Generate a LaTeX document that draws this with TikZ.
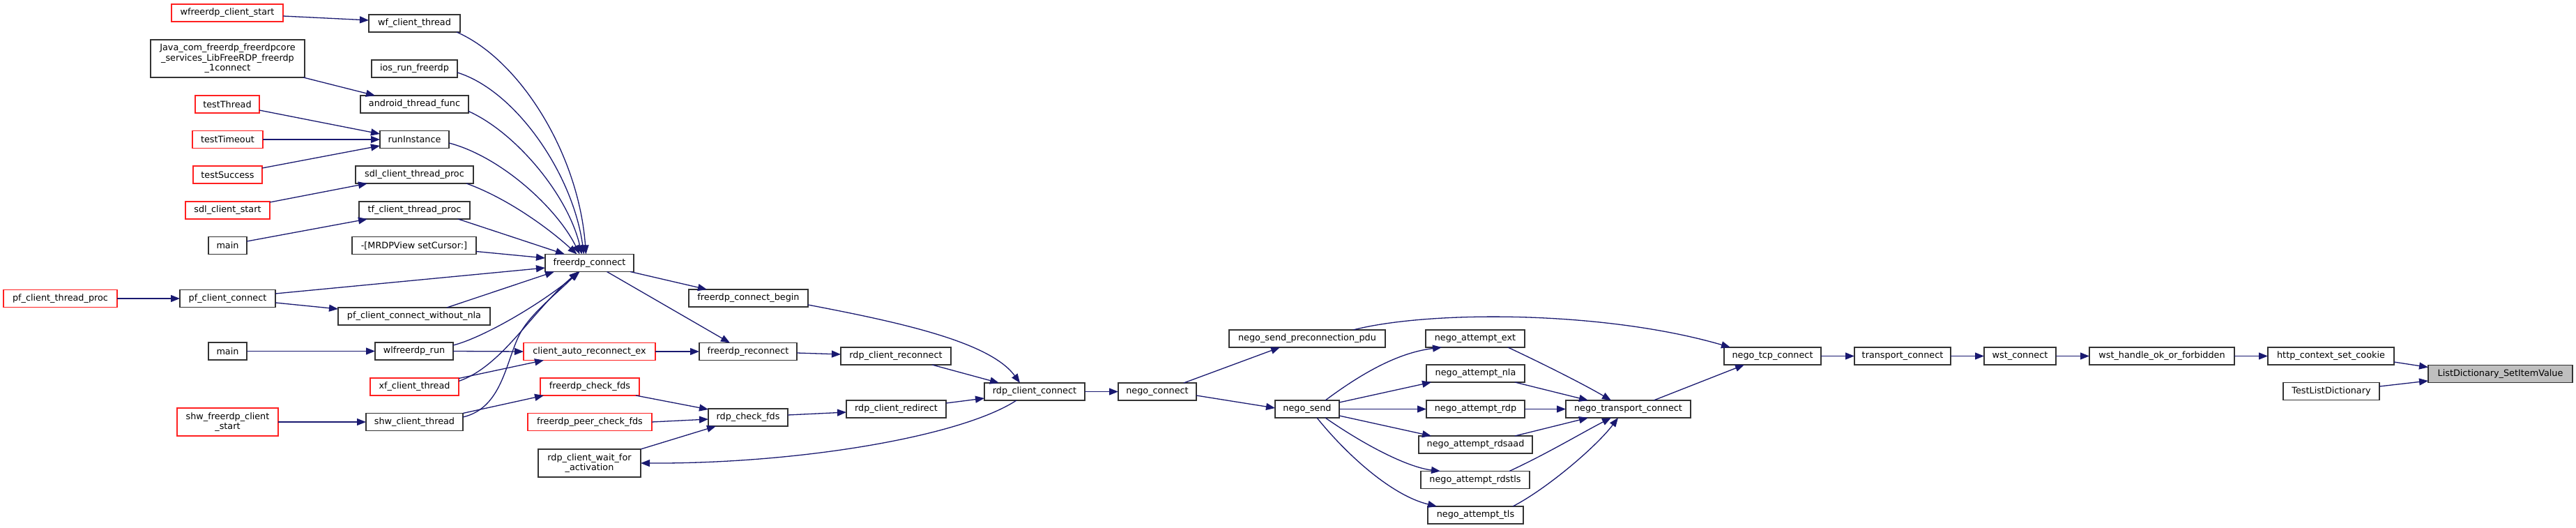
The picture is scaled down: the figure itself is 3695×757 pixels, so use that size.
\documentclass[tikz,border=0pt]{standalone}
\usepackage{fontspec}
\setmainfont{DejaVu Sans}
\usetikzlibrary{arrows.meta,calc}
\definecolor{navy}{HTML}{191970}
\definecolor{redb}{HTML}{FF2020}
\definecolor{rootfill}{HTML}{BFBFBF}
\definecolor{bord}{HTML}{333333}
\begin{document}
\begin{tikzpicture}[x=1pt,y=-1pt,
  box/.style={draw=bord, line width=1.4pt, fill=white, inner sep=0pt, outer sep=0pt,
    minimum height=25pt, align=center, font=\fontsize{12.8}{14.5}\selectfont},
  rbox/.style={box, draw=redb},
  e/.style={draw=navy, line width=1.3pt, -{Triangle[length=13pt,width=10pt]}}]
\useasboundingbox[fill=white] (0,0) rectangle (3695,757);
% column 1
\node[rbox, minimum width=163pt] (pctp) at (86.5,428) {pf\_client\_thread\_proc};
% column 2
\node[rbox, minimum width=160pt] (wcs) at (326,18.5) {wfreerdp\_client\_start};
\node[box, minimum width=221pt, minimum height=54pt] (java) at (326.5,84) {Java\_com\_freerdp\_freerdpcore\\\_services\_LibFreeRDP\_freerdp\\\_1connect};
\node[rbox, minimum width=92pt] (tth) at (326,149.5) {testThread};
\node[rbox, minimum width=101pt] (tto) at (326.5,200) {testTimeout};
\node[rbox, minimum width=99pt] (tsu) at (326.5,250.5) {testSuccess};
\node[rbox, minimum width=121pt] (scs) at (326.5,301.5) {sdl\_client\_start};
\node[box, minimum width=55pt] (m1) at (326.5,352) {main};
\node[box, minimum width=137pt] (pfc) at (326.5,428) {pf\_client\_connect};
\node[box, minimum width=55pt] (m2) at (326.5,503.5) {main};
\node[rbox, minimum width=145pt, minimum height=40pt] (sfcs) at (326.5,605) {shw\_freerdp\_client\\\_start};
% column 3
\node[box, minimum width=131pt] (wfct) at (594.5,33.5) {wf\_client\_thread};
\node[box, minimum width=123pt] (ios) at (594.5,98.5) {ios\_run\_freerdp};
\node[box, minimum width=155pt] (atf) at (594.5,149.5) {android\_thread\_func};
\node[box, minimum width=99pt] (ri) at (594.5,200) {runInstance};
\node[box, minimum width=169pt] (sctp) at (594.5,250.5) {sdl\_client\_thread\_proc};
\node[box, minimum width=159pt] (tctp) at (594.5,301.5) {tf\_client\_thread\_proc};
\node[box, minimum width=178pt] (mrdp) at (594,352) {-[MRDPView setCursor:]};
\node[box, minimum width=218pt] (pfcwn) at (594,453.5) {pf\_client\_connect\_without\_nla};
\node[box, minimum width=112pt] (wlr) at (594,503.5) {wlfreerdp\_run};
\node[rbox, minimum width=127pt] (xct) at (594.5,554.5) {xf\_client\_thread};
\node[box, minimum width=139pt] (shw) at (594.5,605) {shw\_client\_thread};
% column 4
\node[box, minimum width=127pt] (fc) at (845.5,377) {freerdp\_connect};
\node[rbox, minimum width=189pt] (car) at (845.5,504) {client\_auto\_reconnect\_ex};
\node[rbox, minimum width=142pt] (fcf) at (846,554.5) {freerdp\_check\_fds};
\node[rbox, minimum width=178pt] (fpcf) at (846,605) {freerdp\_peer\_check\_fds};
\node[box, minimum width=147pt, minimum height=40pt] (rcwa) at (845.5,664) {rdp\_client\_wait\_for\\\_activation};
% column 5
\node[box, minimum width=171pt] (fcb) at (1073.5,427.5) {freerdp\_connect\_begin};
\node[box, minimum width=140pt] (fr) at (1073,504) {freerdp\_reconnect};
\node[box, minimum width=114pt] (rcf) at (1073,598.5) {rdp\_check\_fds};
% column 6
\node[box, minimum width=158pt] (rcr) at (1285,510.5) {rdp\_client\_reconnect};
\node[box, minimum width=143pt] (rcrd) at (1285.5,586.5) {rdp\_client\_redirect};
% column 7+
\node[box, minimum width=144pt] (rcc) at (1484,561.5) {rdp\_client\_connect};
\node[box, minimum width=112pt] (nc) at (1660,561.5) {nego\_connect};
\node[box, minimum width=224pt] (nspp) at (1875,485.5) {nego\_send\_preconnection\_pdu};
\node[box, minimum width=92pt] (ns) at (1875,586.5) {nego\_send};
\node[box, minimum width=142pt] (nae) at (2116,485.5) {nego\_attempt\_ext};
\node[box, minimum width=141pt] (nan) at (2116.5,535.5) {nego\_attempt\_nla};
\node[box, minimum width=141pt] (nar) at (2116.5,586.5) {nego\_attempt\_rdp};
\node[box, minimum width=163pt] (nards) at (2116.5,637.5) {nego\_attempt\_rdsaad};
\node[box, minimum width=156pt] (nrt) at (2116,688) {nego\_attempt\_rdstls};
\node[box, minimum width=137pt] (ntls) at (2116.5,738.5) {nego\_attempt\_tls};
\node[box, minimum width=179pt] (ntc) at (2335.5,586.5) {nego\_transport\_connect};
\node[box, minimum width=139pt] (ntcp) at (2542.5,510.5) {nego\_tcp\_connect};
\node[box, minimum width=138pt] (tc) at (2729,510.5) {transport\_connect};
\node[box, minimum width=103pt] (wc) at (2897.5,510.5) {wst\_connect};
\node[box, minimum width=208pt] (wh) at (3101,510.5) {wst\_handle\_ok\_or\_forbidden};
\node[box, minimum width=181pt] (hcsc) at (3343.5,510.5) {http\_context\_set\_cookie};
\node[box, minimum width=138pt] (tld) at (3344,561) {TestListDictionary};
\node[box, fill=rootfill, minimum width=207pt] (ld) at (3586.5,536) {ListDictionary\_SetItemValue};
% edges, left part
\draw[e] ($(wcs.east)+(0,4.5)$) -- ($(wfct.west)+(0,-4.5)$);
\draw[e] ($(java.south east)+(-2,0)$) -- ($(atf.north west)+(21,0)$);
\draw[e] ($(tth.east)+(0,8.5)$) -- ($(ri.west)+(0,-8)$);
\draw[e] (tto.east) -- (ri.west);
\draw[e] ($(tsu.east)+(0,-9.5)$) -- ($(ri.west)+(0,9)$);
\draw[e] ($(scs.north east)+(0,1)$) -- ($(sctp.south west)+(17,0)$);
\draw[e] ($(m1.east)+(0,-6)$) -- ($(tctp.south west)+(12,0)$);
\draw[e] (pctp.east) -- (pfc.west);
\draw[e] ($(pfc.east)+(0,6)$) -- ($(pfcwn.west)+(0,-10.5)$);
\draw[e] (m2.east) -- (wlr.west);
\draw[e] (sfcs.east) -- (shw.west);
% into freerdp_connect
\draw[e] ($(wfct.south east)+(-5,0)$) .. controls (745,85) and (830,220) .. ($(fc.north)+(-5,0)$);
\draw[e] ($(ios.east)+(0,5.5)$) .. controls (740,130) and (822,250) .. ($(fc.north)+(-8,0)$);
\draw[e] ($(atf.east)+(0,10)$) .. controls (740,190) and (815,280) .. ($(fc.north)+(-11,0)$);
\draw[e] ($(ri.east)+(0,5)$) .. controls (720,225) and (800,300) .. ($(fc.north)+(-14,0)$);
\draw[e] ($(sctp.south east)+(-10,0)$) .. controls (730,285) and (790,330) .. ($(fc.north)+(-18,0)$);
\draw[e] ($(tctp.south east)+(-17,0)$) -- ($(fc.north west)+(28,0)$);
\draw[e] ($(mrdp.south east)+(0,-4)$) -- ($(fc.west)+(0,-7)$);
\draw[e] ($(pfc.east)+(0,-7)$) -- ($(fc.west)+(0,7)$);
\draw[e] ($(pfcwn.north)+(47,0)$) -- ($(fc.south west)+(13,0)$);
\draw[e] ($(wlr.east)+(0,-8.5)$) .. controls (690,485) and (770,440) .. ($(fc.south)+(-14,0)$);
\draw[e] ($(xct.east)+(0,-8)$) .. controls (720,525) and (760,450) .. ($(fc.south)+(-16,0)$);
\draw[e] ($(shw.east)+(0,-7)$) .. controls (720,585) and (725,520) .. (745,480) .. controls (760,450) and (800,420) .. ($(fc.south)+(-16,0)$);
\draw[e] (wlr.east) -- (car.west);
\draw[e] ($(xct.east)+(0,-12)$) -- ($(car.south west)+(29,0)$);
\draw[e] ($(shw.north east)+(0,0)$) -- ($(fcf.south west)+(5,0)$);
% middle
\draw[e] ($(fc.south east)+(-5,0)$) -- ($(fcb.north west)+(26,0)$);
\draw[e] ($(fc.south)+(25,0)$) -- ($(fr.north)+(-26,0)$);
\draw[e] (car.east) -- (fr.west);
\draw[e] ($(fr.east)+(0,2)$) -- ($(rcr.west)+(0,-2.5)$);
\draw[e] ($(fcb.south east)+(0,-3)$) .. controls (1290,462) and (1420,490) .. ($(rcc.north west)+(51,0)$);
\draw[e] ($(rcr.south east)+(-27,0)$) -- ($(rcc.north west)+(21,0)$);
\draw[e] ($(fcf.south east)+(-5,0)$) -- ($(rcf.north west)+(0,1)$);
\draw[e] (fpcf.east) -- ($(rcf.west)+(0,2.5)$);
\draw[e] (rcwa.north east) -- ($(rcf.south west)+(11,0)$);
\draw[e] ($(rcf.east)+(0,-3.5)$) -- ($(rcrd.west)+(0,4.5)$);
\draw[e] ($(rcrd.east)+(0,-8.5)$) -- ($(rcc.west)+(0,9.5)$);
\draw[e] ($(rcc.south west)+(46,0)$) .. controls (1380,625) and (1150,665) .. (rcwa.east);
% right part
\draw[e] (rcc.east) -- (nc.west);
\draw[e] ($(nc.north east)+(-18,0)$) -- ($(nspp.south west)+(73,0)$);
\draw[e] ($(nc.east)+(0,5.5)$) -- ($(ns.west)+(0,-1.5)$);
\draw[e] ($(ns.north east)+(-20,0)$) .. controls (1960,530) and (2010,505) .. ($(nae.south west)+(23,0)$);
\draw[e] ($(ns.north east)+(0,3)$) -- ($(nan.south west)+(7,0)$);
\draw[e] (ns.east) -- (nar.west);
\draw[e] ($(ns.east)+(0,9.5)$) -- ($(nards.north west)+(18,0)$);
\draw[e] ($(ns.south east)+(-20,0)$) .. controls (1960,640) and (2020,670) .. ($(nrt.north west)+(28,0)$);
\draw[e] ($(ns.south east)+(-32,0)$) .. controls (1930,650) and (1995,710) .. ($(ntls.north west)+(13,0)$);
\draw[e] ($(nspp.north east)+(-46,0)$) .. controls (2050,445) and (2300,445) .. ($(ntcp.north west)+(9,0)$);
\draw[e] ($(nae.south east)+(-24,0)$) .. controls (2210,520) and (2270,550) .. ($(ntc.north west)+(65,0)$);
\draw[e] ($(nan.south east)+(-14,0)$) -- ($(ntc.north west)+(32,0)$);
\draw[e] (nar.east) -- (ntc.west);
\draw[e] ($(nards.north east)+(-25,0)$) -- ($(ntc.south west)+(32,0)$);
\draw[e] ($(nrt.north east)+(-29,0)$) .. controls (2220,650) and (2270,620) .. ($(ntc.south west)+(65,0)$);
\draw[e] ($(ntls.north east)+(-15,0)$) .. controls (2220,700) and (2290,640) .. ($(ntc.south west)+(75,0)$);
\draw[e] ($(ntc.north east)+(-53,0)$) -- ($(ntcp.south west)+(29,0)$);
\draw[e] (ntcp.east) -- (tc.west);
\draw[e] (tc.east) -- (wc.west);
\draw[e] (wc.east) -- (wh.west);
\draw[e] (wh.east) -- (hcsc.west);
\draw[e] ($(hcsc.south east)+(0,-4)$) -- ($(ld.north west)+(0,3)$);
\draw[e] ($(tld.east)+(0,-7)$) -- ($(ld.west)+(0,10)$);
\end{tikzpicture}
\end{document}
